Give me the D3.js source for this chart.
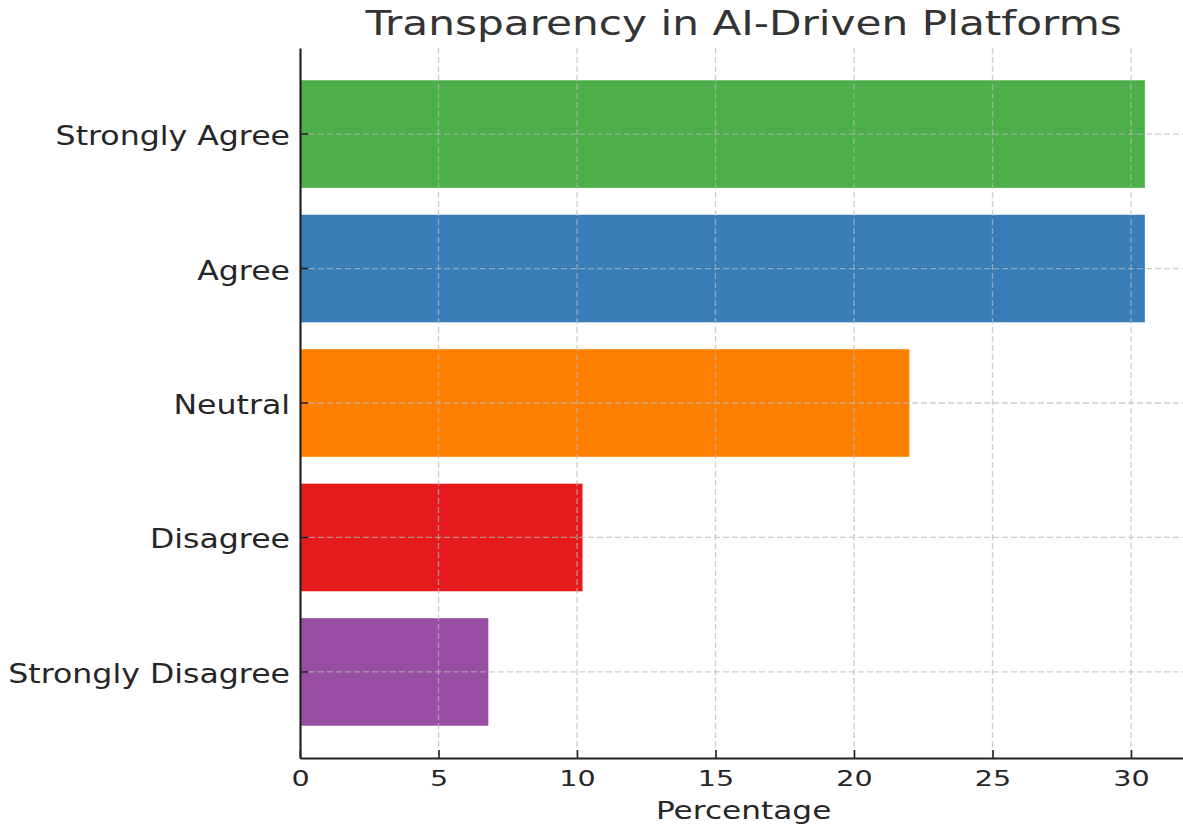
<!DOCTYPE html>
<meta charset="utf-8">
<html>
  <head>
    <script src="https://cdn.jsdelivr.net/npm/d3@7"></script>
    <style>
      body { margin: 0; background: #fff; }
      text { font-family: "DejaVu Sans", sans-serif; }
    </style>
  </head>
  <body>
    <div id="chart"></div>

    <script type="text/javascript">
      // survey answers, top to bottom
      var categories = ["Strongly Agree", "Agree", "Neutral", "Disagree", "Strongly Disagree"];
      var percentages = [30.5, 30.5, 22.0, 10.2, 6.8];
      var barColors = ["#4daf4a", "#377eb8", "#ff7f00", "#e41a1c", "#984ea3"];
      var xTicks = [0, 5, 10, 15, 20, 25, 30];
      var title = "Transparency in AI-Driven Platforms",
          xLabel = "Percentage";

      var width = 1183, height = 825,
          plotLeft = 300, plotTop = 48, plotBottom = 758,
          xMax = 32.03, pxPerUnit = 27.7;

      var svg = d3.select("#chart").append("svg")
          .attr("width", width)
          .attr("height", height);

      var x = d3.scaleLinear()
          .domain([0, xMax])
          .range([plotLeft, plotLeft + xMax * pxPerUnit]);

      var y = d3.scaleBand()
          .domain(categories)
          .range([plotTop, plotBottom])
          .paddingInner(0.2)
          .paddingOuter(0.24);

      var data = categories.map(function(c, i) { return { cat: c, val: percentages[i], color: barColors[i] }; });

      // bars
      svg.selectAll(".bar")
          .data(data)
          .enter().append("rect")
            .attr("class", "bar")
            .attr("x", x(0))
            .attr("y", function(d) { return y(d.cat); })
            .attr("width", function(d) { return x(d.val) - x(0); })
            .attr("height", y.bandwidth())
            .style("fill", function(d) { return d.color; });

      // dashed grid, sits on top of the bars
      var grid = svg.append("g").attr("class", "grid")
          .style("stroke", "#b8b8b8")
          .style("stroke-opacity", 0.7)
          .style("stroke-width", 1.3)
          .style("stroke-dasharray", "6,3");

      grid.selectAll(".vline")
          .data(xTicks.filter(function(t) { return t > 0; }))
          .enter().append("line")
            .attr("x1", function(d) { return x(d); })
            .attr("x2", function(d) { return x(d); })
            .attr("y1", plotTop)
            .attr("y2", plotBottom);

      grid.selectAll(".hline")
          .data(categories)
          .enter().append("line")
            .attr("x1", plotLeft)
            .attr("x2", x.range()[1])
            .attr("y1", function(d) { return y(d) + y.bandwidth() / 2; })
            .attr("y2", function(d) { return y(d) + y.bandwidth() / 2; });

      // axes
      var xAxis = svg.append("g")
          .attr("transform", "translate(0," + plotBottom + ")")
          .call(d3.axisBottom(x).tickValues(xTicks).tickSizeInner(-8).tickSizeOuter(0));

      var yAxis = svg.append("g")
          .attr("transform", "translate(" + plotLeft + ",0)")
          .call(d3.axisLeft(y).tickSizeInner(-8).tickSizeOuter(0));

      [xAxis, yAxis].forEach(function(ax) {
        ax.select(".domain").style("stroke", "#222").style("stroke-width", 2.2);
        ax.selectAll(".tick line").style("stroke", "#222").style("stroke-width", 1.6);
      });

      var sxTick = 1.3, sxCat = 1.17;

      xAxis.selectAll(".tick text")
          .attr("x", 0)
          .attr("y", 28)
          .attr("dy", 0)
          .attr("transform", "scale(" + sxTick + ",1)")
          .style("font-size", "22px")
          .style("fill", "#262626");

      yAxis.selectAll(".tick text")
          .attr("x", -10 / sxCat)
          .attr("dy", 0)
          .attr("y", 11)
          .attr("transform", "scale(" + sxCat + ",1)")
          .style("font-size", "27px")
          .style("fill", "#262626");

      // title and x label
      svg.append("text")
          .attr("transform", "translate(" + ((x.range()[0] + x.range()[1]) / 2) + ",35) scale(1.28,1)")
          .attr("text-anchor", "middle")
          .style("font-size", "33px")
          .style("fill", "#333")
          .text(title);

      svg.append("text")
          .attr("transform", "translate(" + ((x.range()[0] + x.range()[1]) / 2) + ",819) scale(1.3,1)")
          .attr("text-anchor", "middle")
          .style("font-size", "24px")
          .style("fill", "#262626")
          .text(xLabel);
    </script>
  </body>
</html>
